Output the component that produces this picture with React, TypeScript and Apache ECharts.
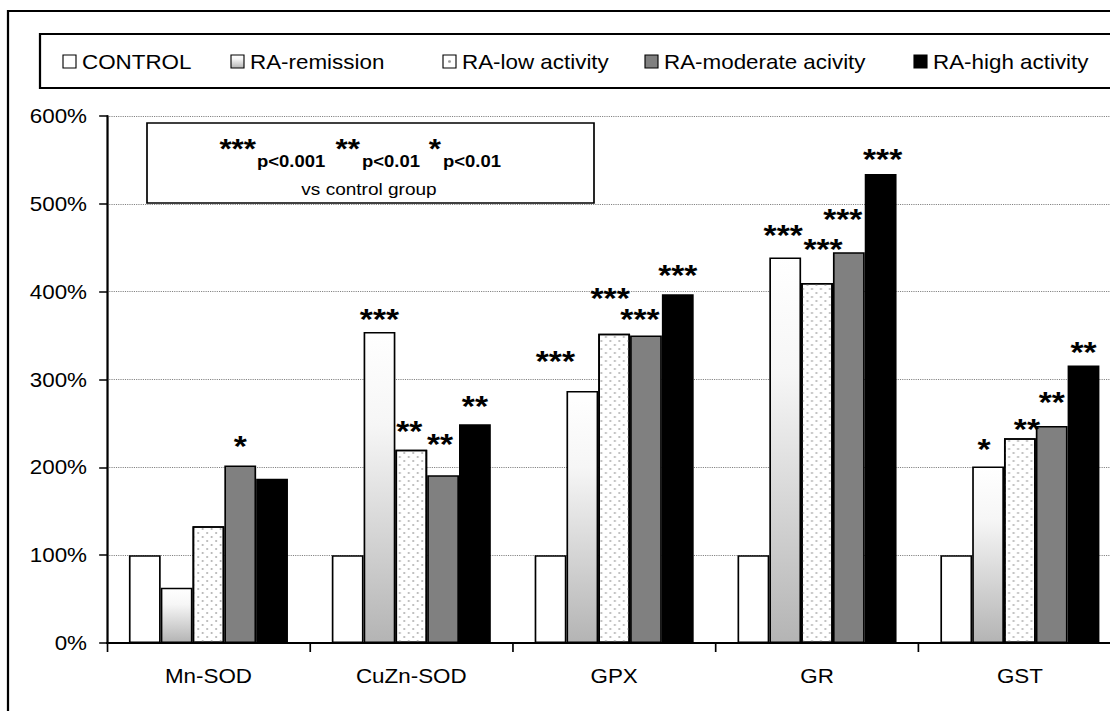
import React, { useEffect, useRef } from 'react';
import * as echarts from 'echarts';

// ---- data ----
const categories = ['Mn-SOD', 'CuZn-SOD', 'GPX', 'GR', 'GST'];
const seriesNames = ['CONTROL', 'RA-remission', 'RA-low activity', 'RA-moderate acivity', 'RA-high activity'];
const controlValues = [100, 100, 100, 100, 100];
const remissionValues = [63, 354, 287, 439, 201];
const lowValues = [133, 220, 352, 410, 233];
const moderateValues = [202, 191, 350, 445, 247];
const highValues = [187, 249, 397, 534, 316];
const yMax = 600;
const yStep = 100;

// significance marks per series and category
const controlStars = ['', '', '', '', ''];
const remissionStars = ['', '***', '***', '***', '*'];
const lowStars = ['', '**', '***', '***', '**'];
const moderateStars = ['*', '**', '***', '***', '**'];
const highStars = ['', '**', '***', '***', '**'];

// label nudges [dx, dy of glyph centre from bar top], px
const noShift = [[0, 0], [0, 0], [0, 0], [0, 0], [0, 0]];
const remissionShift = [[0, 0], [0, -19], [-27, -36], [-2, -29], [-4, -24]];
const lowShift = [[0, 0], [-2, -25], [-4, -42], [6, -40], [7, -16]];
const moderateShift = [[0, -26], [-3, -38], [-6, -23], [-6, -40], [0, -30]];
const highShift = [[0, 0], [0, -25], [0, -26], [2, -21], [0, -20]];

const FONT = '"Liberation Sans", Arial, Helvetica, sans-serif';
const S = 1.12; // horizontal stretch of the reference picture
const px = (v: number) => v / S;

function App() {
  const ref = useRef<HTMLDivElement>(null);

  useEffect(() => {
    if (!ref.current) return;
    const chart = echarts.init(ref.current, undefined, { renderer: 'svg' });

    const remissionGradient = () =>
      new echarts.graphic.LinearGradient(0, 0, 0, 1, [
        { offset: 0, color: '#ffffff' },
        { offset: 0.3, color: '#f6f6f6' },
        { offset: 1, color: '#b4b4b4' },
      ]);

    const dotDecal = {
      symbol: 'circle',
      symbolSize: 1,
      color: '#b0b0b0',
      dashArrayX: [[1.7, 5.3], [0, 3.5, 1.7, 1.8]],
      dashArrayY: [1.7, 1.8],
      rotation: 0,
    };

    const makeData = (values: number[], stars: string[], shift: number[][]) =>
      values.map((v, i) => {
        const st = stars[i];
        if (!st) return { value: v, label: { show: false } };
        return {
          value: v,
          label: {
            show: true,
            formatter: st,
            offset: [px(shift[i][0]), shift[i][1] + 21],
          },
        };
      });

    const starLabel = {
      show: false,
      position: 'top',
      distance: 0,
      fontSize: 30,
      fontWeight: 'bold',
      color: '#000',
      fontFamily: FONT,
    };

    const border = { borderColor: '#000', borderWidth: 1.5 };

    const seriesDefs = [
      { values: controlValues, stars: controlStars, shift: noShift, style: { color: '#ffffff', ...border } },
      { values: remissionValues, stars: remissionStars, shift: remissionShift, style: { color: remissionGradient(), ...border } },
      { values: lowValues, stars: lowStars, shift: lowShift, style: { color: '#ffffff', decal: dotDecal, ...border } },
      { values: moderateValues, stars: moderateStars, shift: moderateShift, style: { color: '#808080', ...border } },
      { values: highValues, stars: highStars, shift: highShift, style: { color: '#000000', ...border } },
    ];

    const series = seriesDefs.map((d, k) => ({
      name: seriesNames[k],
      type: 'bar',
      barGap: '0%',
      barCategoryGap: '21.6%',
      itemStyle: d.style,
      label: starLabel,
      emphasis: { disabled: true },
      data: makeData(d.values, d.stars, d.shift),
    }));

    // legend drawn as graphic (boxed Excel-style legend)
    const legendSquareX = [63, 231, 443, 645, 914];
    const legendItems: any[] = [];
    seriesNames.forEach((name, i) => {
      const x = px(legendSquareX[i]);
      let fill: any = '#fff';
      if (i === 1) fill = remissionGradient();
      if (i === 3) fill = '#808080';
      if (i === 4) fill = '#000';
      legendItems.push({
        type: 'rect',
        shape: { x, y: 55, width: px(13), height: 13 },
        style: { fill, stroke: '#000', lineWidth: 1 },
        silent: true,
        z: 20,
      });
      if (i === 2) {
        legendItems.push({
          type: 'circle',
          shape: { cx: x + px(6.5), cy: 61.5, r: 1.3 },
          style: { fill: '#999' },
          silent: true,
          z: 21,
        });
      }
      legendItems.push({
        type: 'text',
        x: px(legendSquareX[i] + 19),
        y: 62,
        style: {
          text: name,
          fontSize: 20,
          fontFamily: FONT,
          fill: '#000',
          align: 'left',
          verticalAlign: 'middle',
        },
        silent: true,
        z: 20,
      });
    });

    const boxText = (text: string, x: number, y: number, size: number, bold: boolean, align: string) => ({
      type: 'text',
      x: px(x),
      y,
      style: {
        text,
        fontSize: size,
        fontWeight: bold ? 'bold' : 'normal',
        fontFamily: FONT,
        fill: '#000',
        align,
        verticalAlign: 'middle',
      },
      silent: true,
      z: 31,
    });

    const option: any = {
      animation: false,
      backgroundColor: '#ffffff',
      textStyle: { fontFamily: FONT, color: '#000' },
      grid: {
        left: px(107),
        right: px(1160) - px(1121),
        top: 116,
        bottom: 711 - 643,
        containLabel: false,
        outerBoundsMode: 'none',
      },
      xAxis: {
        type: 'category',
        data: categories,
        axisLine: { show: true, lineStyle: { color: '#000', width: 2 } },
        axisTick: { show: true, length: 9, interval: 0, lineStyle: { color: '#000', width: 1.5 } },
        axisLabel: { fontSize: 20, color: '#000', margin: 23, fontFamily: FONT, interval: 0 },
        splitLine: { show: false },
      },
      yAxis: {
        type: 'value',
        min: 0,
        max: yMax,
        interval: yStep,
        axisLine: { show: true, lineStyle: { color: '#000', width: 2 } },
        axisTick: { show: true, length: 7, lineStyle: { color: '#000', width: 1.5 } },
        axisLabel: { fontSize: 20, color: '#000', margin: px(20), fontFamily: FONT, formatter: '{value}%' },
        splitLine: { show: true, lineStyle: { color: '#808080', width: 1, type: 'dotted' } },
      },
      series,
      graphic: [
        {
          type: 'rect',
          shape: { x: px(8), y: 11, width: px(1180), height: 760 },
          style: { fill: 'none', stroke: '#000', lineWidth: 2 },
          silent: true,
          z: 5,
        },
        {
          type: 'rect',
          shape: { x: px(40), y: 34, width: px(1150), height: 54 },
          style: { fill: '#fff', stroke: '#000', lineWidth: 2 },
          silent: true,
          z: 10,
        },
        ...legendItems,
        {
          type: 'rect',
          shape: { x: px(147), y: 123, width: px(447), height: 80 },
          style: { fill: '#fff', stroke: '#000', lineWidth: 1.5 },
          silent: true,
          z: 30,
        },
        boxText('***', 256, 148, 28, true, 'right'),
        boxText('p<0.001', 257, 161, 16.5, true, 'left'),
        boxText('**', 360, 148, 28, true, 'right'),
        boxText('p<0.01', 362, 161, 16.5, true, 'left'),
        boxText('*', 441, 148, 28, true, 'right'),
        boxText('p<0.01', 443, 161, 16.5, true, 'left'),
        boxText('vs control group', 369, 189, 17, false, 'center'),
      ],
    };

    chart.setOption(option);
    return () => {
      chart.dispose();
    };
  }, []);

  return (
    <div
      style={{
        position: 'fixed',
        left: 0,
        top: 0,
        width: 1110,
        height: 711,
        overflow: 'hidden',
        background: '#fff',
      }}
    >
      <div
        ref={ref}
        style={{
          width: 1160 / S,
          height: 711,
          transform: `scaleX(${S})`,
          transformOrigin: '0 0',
        }}
      />
    </div>
  );
}

export default App;
